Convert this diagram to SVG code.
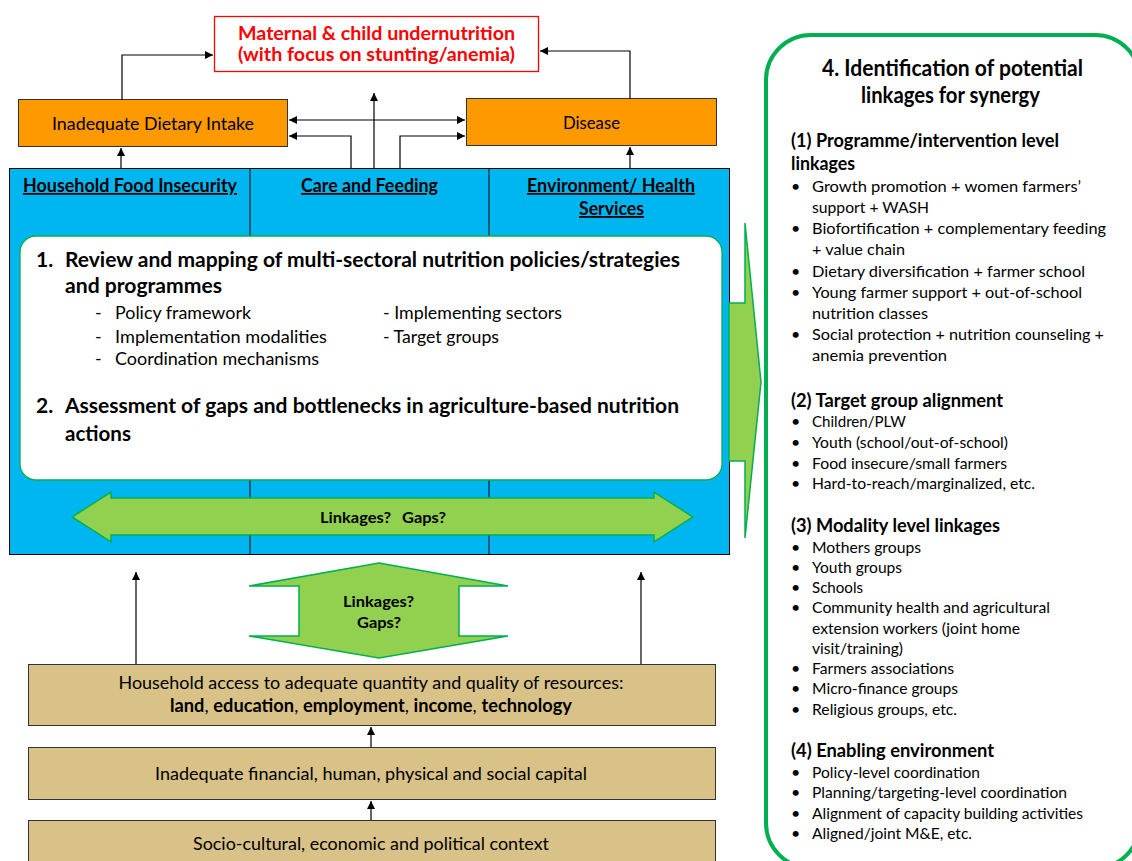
<svg xmlns="http://www.w3.org/2000/svg" width="1132" height="861" viewBox="0 0 1132 861">
<defs>
<marker id="ah" markerUnits="userSpaceOnUse" markerWidth="9" markerHeight="9" refX="8" refY="4" orient="auto-start-reverse"><path d="M0,0 L8,4 L0,8 z" fill="#000"/></marker>
<style>
text{font-family:Lato,"Liberation Sans",sans-serif;fill:#000}
.c{stroke:#000;stroke-width:1.2;fill:none;marker-end:url(#ah)}
.b{font-weight:bold}
.red{font-weight:bold;font-size:19.5px;fill:#FF0000;text-anchor:middle}
.hdr{font-weight:bold;font-size:18px;text-decoration:underline;text-anchor:middle}
.big{font-weight:bold;font-size:21px}
.sub{font-size:17.8px}
.bx{font-size:18px;text-anchor:middle}
.pt{font-size:16px}
.ph{font-weight:bold;font-size:18px}
.lk{font-weight:bold;font-size:16px}
.arr{fill:#92D050;stroke:#00B050;stroke-width:1.5}
</style>
</defs>
<rect width="1132" height="861" fill="#fff"/>

<g id="outcome">
<rect x="214.5" y="16.5" width="324" height="55" fill="#fff" stroke="#FF0000" stroke-width="1.3"/>
<text x="376.5" y="40" class="red" textLength="277" lengthAdjust="spacingAndGlyphs">Maternal &amp; child undernutrition</text>
<text x="376.5" y="61" class="red" textLength="277" lengthAdjust="spacingAndGlyphs">(with focus on stunting/anemia)</text>
</g>

<g id="dietary-intake">
<rect x="18.5" y="99.5" width="269" height="47" fill="#FF9900" stroke="#333" stroke-width="1"/>
<text x="153" y="130" class="bx" textLength="202" lengthAdjust="spacingAndGlyphs">Inadequate Dietary Intake</text>
</g>

<g id="disease">
<rect x="466.5" y="98.5" width="250" height="47" fill="#FF9900" stroke="#333" stroke-width="1"/>
<text x="591.5" y="129" class="bx" textLength="57" lengthAdjust="spacingAndGlyphs">Disease</text>
</g>

<g id="underlying">
<rect x="9.5" y="168.5" width="720" height="386" fill="#00B6F0" stroke="#000" stroke-width="1"/>
<line x1="250" y1="168" x2="250" y2="555" stroke="#000" stroke-width="1"/>
<line x1="489" y1="168" x2="489" y2="555" stroke="#000" stroke-width="1"/>
<text x="130" y="192" class="hdr" textLength="214" lengthAdjust="spacingAndGlyphs">Household Food Insecurity</text>
<text x="369.5" y="192" class="hdr" textLength="137" lengthAdjust="spacingAndGlyphs">Care and Feeding</text>
<text x="611" y="192" class="hdr" textLength="168" lengthAdjust="spacingAndGlyphs">Environment/ Health</text>
<text x="611.5" y="215" class="hdr" textLength="65" lengthAdjust="spacingAndGlyphs">Services</text>
</g>

<g id="review-box">
<rect x="20" y="236" width="702" height="244" rx="16" fill="#fff" stroke="#00B050" stroke-width="1.3"/>
<text x="36" y="267" class="big">1.</text>
<text x="65" y="267" class="big" textLength="615" lengthAdjust="spacingAndGlyphs">Review and mapping of multi-sectoral nutrition policies/strategies</text>
<text x="65" y="293" class="big" textLength="157" lengthAdjust="spacingAndGlyphs">and programmes</text>
<text x="95" y="319" class="sub">-</text>
<text x="115" y="319" class="sub" textLength="136" lengthAdjust="spacingAndGlyphs">Policy framework</text>
<text x="95" y="343" class="sub">-</text>
<text x="115" y="343" class="sub" textLength="212" lengthAdjust="spacingAndGlyphs">Implementation modalities</text>
<text x="95" y="365" class="sub">-</text>
<text x="115" y="365" class="sub" textLength="204" lengthAdjust="spacingAndGlyphs">Coordination mechanisms</text>
<text x="383" y="319" class="sub" textLength="179" lengthAdjust="spacingAndGlyphs">- Implementing sectors</text>
<text x="383" y="343" class="sub" textLength="116" lengthAdjust="spacingAndGlyphs">- Target groups</text>
<text x="36" y="413" class="big">2.</text>
<text x="65" y="413" class="big" textLength="614" lengthAdjust="spacingAndGlyphs">Assessment of gaps and bottlenecks in agriculture-based nutrition</text>
<text x="65" y="441" class="big" textLength="66" lengthAdjust="spacingAndGlyphs">actions</text>
</g>

<g id="linkages-horizontal">
<polygon class="arr" points="72,517 111,492 111,498 654,498 654,492 693,517 654,542 654,535 111,535 111,542"/>
<text x="320" y="523" class="lk" textLength="71" lengthAdjust="spacingAndGlyphs">Linkages?</text>
<text x="402" y="523" class="lk" textLength="44" lengthAdjust="spacingAndGlyphs">Gaps?</text>
</g>

<g id="to-panel-arrow">
<polygon class="arr" points="729,303 745,303 745,223 761,382 745,538 745,461 729,461"/>
</g>

<g id="linkages-vertical">
<polygon class="arr" points="379,563 508,586 459,586 459,636 508,636 379,658 249,636 299,636 299,586 249,586"/>
<text x="378.5" y="607" text-anchor="middle" class="lk" textLength="71" lengthAdjust="spacingAndGlyphs">Linkages?</text>
<text x="379" y="628" text-anchor="middle" class="lk" textLength="44" lengthAdjust="spacingAndGlyphs">Gaps?</text>
</g>

<g id="household-access">
<rect x="28.5" y="664.5" width="687" height="61" fill="#D8C288" stroke="#333" stroke-width="1"/>
<text x="371" y="689" class="bx" textLength="505" lengthAdjust="spacingAndGlyphs">Household access to adequate quantity and quality of resources:</text>
<text x="371" y="712" class="bx" textLength="402" lengthAdjust="spacingAndGlyphs"><tspan class="b">land</tspan>, <tspan class="b">education</tspan>, <tspan class="b">employment</tspan>, <tspan class="b">income</tspan>, <tspan class="b">technology</tspan></text>
</g>

<g id="capital">
<rect x="28.5" y="747.5" width="687" height="52" fill="#D8C288" stroke="#333" stroke-width="1"/>
<text x="371" y="780" class="bx" textLength="432" lengthAdjust="spacingAndGlyphs">Inadequate financial, human, physical and social capital</text>
</g>

<g id="context">
<rect x="28.5" y="820.5" width="687" height="50" fill="#D8C288" stroke="#333" stroke-width="1"/>
<text x="371" y="850" class="bx" textLength="356" lengthAdjust="spacingAndGlyphs">Socio-cultural, economic and political context</text>
</g>

<g id="connectors">
<path class="c" d="M122,100 V55 H213"/>
<path class="c" d="M630,99 V51 H540"/>
<line class="c" x1="289" y1="120" x2="465" y2="120" style="marker-start:url(#ah)"/>
<path class="c" d="M351,168 V136 H289"/>
<path class="c" d="M374,168 V93"/>
<path class="c" d="M400,168 V136 H465"/>
<path class="c" d="M121,168 V148"/>
<path class="c" d="M630,168 V147"/>
<path class="c" d="M136,664 V572"/>
<path class="c" d="M641,664 V572"/>
<path class="c" d="M371,747 V727"/>
<path class="c" d="M371,820 V801"/>
</g>

<g id="synergy-panel">
<rect x="766" y="35" width="374" height="833" rx="45" fill="#fff" stroke="#00B050" stroke-width="4"/>
<text x="952.5" y="76" text-anchor="middle" class="b" font-size="22.5" textLength="261" lengthAdjust="spacingAndGlyphs">4. Identification of potential</text>
<text x="950.5" y="103" text-anchor="middle" class="b" font-size="22.5" textLength="179" lengthAdjust="spacingAndGlyphs">linkages for synergy</text>

<text x="791" y="147" class="ph" textLength="268" lengthAdjust="spacingAndGlyphs">(1) Programme/intervention level</text>
<text x="791" y="170" class="ph" textLength="64" lengthAdjust="spacingAndGlyphs">linkages</text>
<text x="791" y="192" class="pt">•</text><text x="812" y="192" class="pt" textLength="269" lengthAdjust="spacingAndGlyphs">Growth promotion + women farmers’</text>
<text x="812" y="213" class="pt" textLength="117" lengthAdjust="spacingAndGlyphs">support + WASH</text>
<text x="791" y="234" class="pt">•</text><text x="812" y="234" class="pt" textLength="294" lengthAdjust="spacingAndGlyphs">Biofortification + complementary feeding</text>
<text x="812" y="255" class="pt" textLength="93" lengthAdjust="spacingAndGlyphs">+ value chain</text>
<text x="791" y="277" class="pt">•</text><text x="812" y="277" class="pt" textLength="273" lengthAdjust="spacingAndGlyphs">Dietary diversification + farmer school</text>
<text x="791" y="298" class="pt">•</text><text x="812" y="298" class="pt" textLength="270" lengthAdjust="spacingAndGlyphs">Young farmer support + out-of-school</text>
<text x="812" y="319" class="pt" textLength="116" lengthAdjust="spacingAndGlyphs">nutrition classes</text>
<text x="791" y="340" class="pt">•</text><text x="812" y="340" class="pt" textLength="292" lengthAdjust="spacingAndGlyphs">Social protection + nutrition counseling +</text>
<text x="812" y="361" class="pt" textLength="135" lengthAdjust="spacingAndGlyphs">anemia prevention</text>

<text x="791" y="407" class="ph" textLength="212" lengthAdjust="spacingAndGlyphs">(2) Target group alignment</text>
<text x="791" y="427" class="pt">•</text><text x="812" y="427" class="pt" textLength="94" lengthAdjust="spacingAndGlyphs">Children/PLW</text>
<text x="791" y="448" class="pt">•</text><text x="812" y="448" class="pt" textLength="196" lengthAdjust="spacingAndGlyphs">Youth (school/out-of-school)</text>
<text x="791" y="469" class="pt">•</text><text x="812" y="469" class="pt" textLength="195" lengthAdjust="spacingAndGlyphs">Food insecure/small farmers</text>
<text x="791" y="489" class="pt">•</text><text x="812" y="489" class="pt" textLength="223" lengthAdjust="spacingAndGlyphs">Hard-to-reach/marginalized, etc.</text>

<text x="791" y="532" class="ph" textLength="209" lengthAdjust="spacingAndGlyphs">(3) Modality level linkages</text>
<text x="791" y="553" class="pt">•</text><text x="812" y="553" class="pt" textLength="109" lengthAdjust="spacingAndGlyphs">Mothers groups</text>
<text x="791" y="573" class="pt">•</text><text x="812" y="573" class="pt" textLength="90" lengthAdjust="spacingAndGlyphs">Youth groups</text>
<text x="791" y="593" class="pt">•</text><text x="812" y="593" class="pt" textLength="51" lengthAdjust="spacingAndGlyphs">Schools</text>
<text x="791" y="613" class="pt">•</text><text x="812" y="613" class="pt" textLength="238" lengthAdjust="spacingAndGlyphs">Community health and agricultural</text>
<text x="812" y="634" class="pt" textLength="208" lengthAdjust="spacingAndGlyphs">extension workers (joint home</text>
<text x="812" y="654" class="pt" textLength="91" lengthAdjust="spacingAndGlyphs">visit/training)</text>
<text x="791" y="674" class="pt">•</text><text x="812" y="674" class="pt" textLength="142" lengthAdjust="spacingAndGlyphs">Farmers associations</text>
<text x="791" y="694" class="pt">•</text><text x="812" y="694" class="pt" textLength="146" lengthAdjust="spacingAndGlyphs">Micro-finance groups</text>
<text x="791" y="715" class="pt">•</text><text x="812" y="715" class="pt" textLength="145" lengthAdjust="spacingAndGlyphs">Religious groups, etc.</text>

<text x="791" y="757" class="ph" textLength="203" lengthAdjust="spacingAndGlyphs">(4) Enabling environment</text>
<text x="791" y="778" class="pt">•</text><text x="812" y="778" class="pt" textLength="168" lengthAdjust="spacingAndGlyphs">Policy-level coordination</text>
<text x="791" y="798" class="pt">•</text><text x="812" y="798" class="pt" textLength="255" lengthAdjust="spacingAndGlyphs">Planning/targeting-level coordination</text>
<text x="791" y="819" class="pt">•</text><text x="812" y="819" class="pt" textLength="271" lengthAdjust="spacingAndGlyphs">Alignment of capacity building activities</text>
<text x="791" y="839" class="pt">•</text><text x="812" y="839" class="pt" textLength="160" lengthAdjust="spacingAndGlyphs">Aligned/joint M&amp;E, etc.</text>
</g>
</svg>
